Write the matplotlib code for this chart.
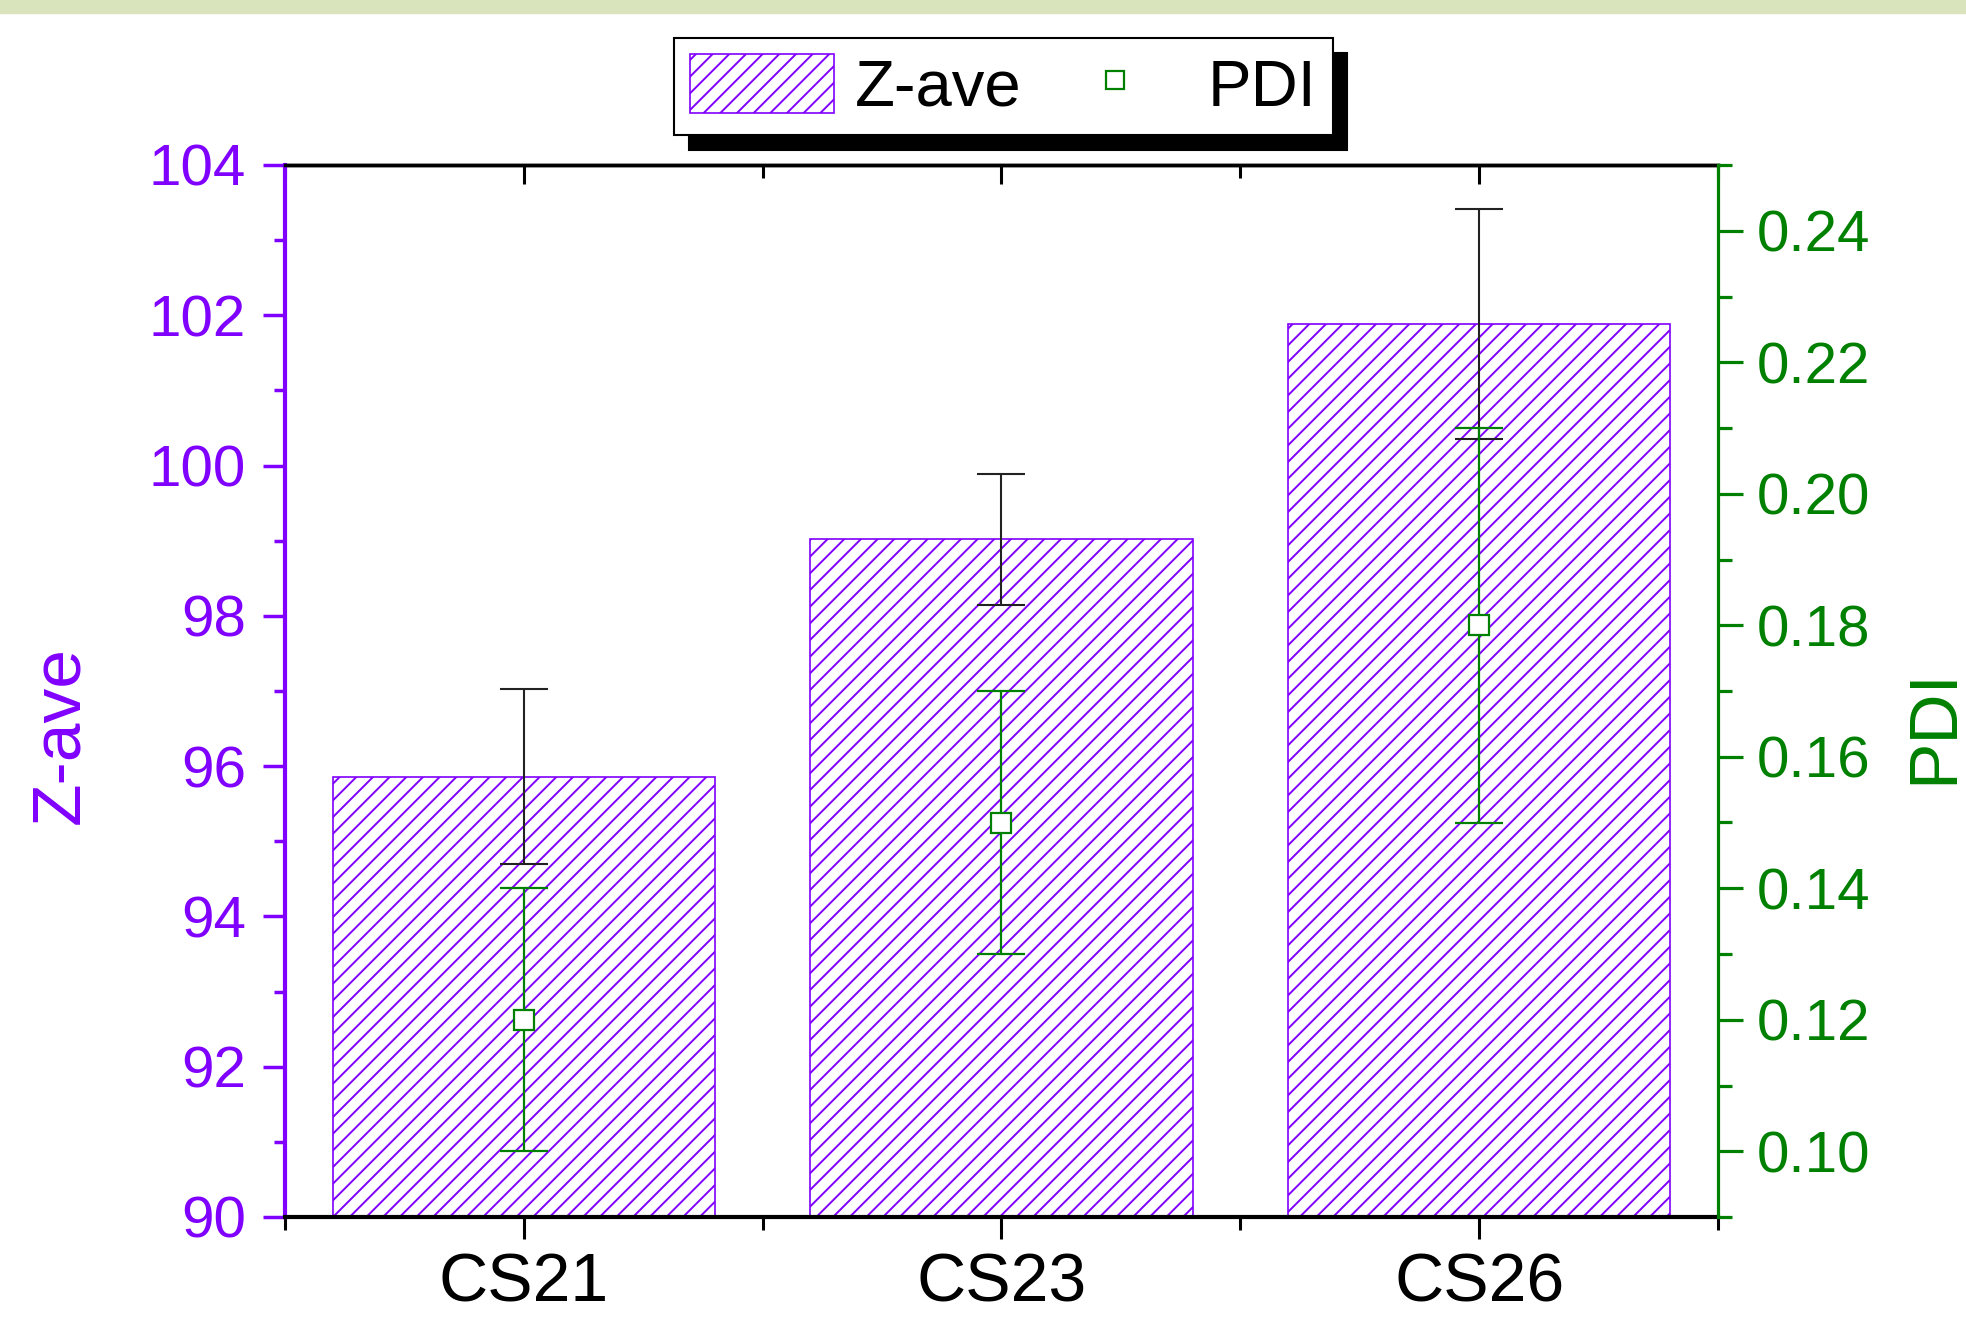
import numpy as np
import matplotlib
matplotlib.use("Agg")
import matplotlib.pyplot as plt
from matplotlib.lines import Line2D
from matplotlib.patches import Rectangle
from matplotlib.ticker import MultipleLocator, FormatStrFormatter

# data
samples = ["CS21", "CS23", "CS26"]
z_ave = [95.86, 99.02, 101.89]
z_err = [1.16, 0.87, 1.53]
pdi = [0.12, 0.15, 0.18]
pdi_err = [0.02, 0.02, 0.03]

PURPLE = "#8000FF"
GREEN = "#008000"

plt.rcParams["font.family"] = ["Liberation Sans", "DejaVu Sans"]
plt.rcParams["hatch.linewidth"] = 1.4

fig = plt.figure(figsize=(19.66, 13.21), dpi=100)

# light green strip at the very top
fig.patches.append(Rectangle((0, 1 - 13 / 1321), 1, 13 / 1321,
                             transform=fig.transFigure, color="#D9E4BD", zorder=0))

ax = fig.add_axes([285 / 1966, 1 - 1217 / 1321, 1433 / 1966, 1052 / 1321])
x = np.arange(len(samples))

# Z-ave bars
bars = ax.bar(x, z_ave, width=0.8, color="white", edgecolor=PURPLE,
              hatch="//", linewidth=1.2, zorder=2)
ax.errorbar(x, z_ave, yerr=z_err, fmt="none", ecolor="#222222",
            elinewidth=1.5, capsize=17, capthick=1.5, zorder=3)

ax.set_xlim(-0.5, 2.5)
ax.set_ylim(90, 104)
ax.yaxis.set_major_locator(MultipleLocator(2))
ax.yaxis.set_minor_locator(MultipleLocator(1))
ax.set_xticks(x)
ax.set_xticklabels(samples, fontsize=49)
ax.xaxis.set_minor_locator(MultipleLocator(0.5))

ax.spines["left"].set_color(PURPLE)
ax.spines["left"].set_linewidth(3)
ax.spines["bottom"].set_linewidth(3)
ax.spines["top"].set_linewidth(2.5)
ax.spines["right"].set_visible(False)

ax.tick_params(axis="y", which="major", direction="out", length=16, width=2.5,
               color=PURPLE, labelcolor=PURPLE, labelsize=42, pad=12)
ax.tick_params(axis="y", which="minor", direction="out", length=8, width=2.5,
               color=PURPLE)
ax.tick_params(axis="x", which="major", direction="out", length=16, width=2.2,
               pad=9)
ax.tick_params(axis="x", which="minor", direction="out", length=9, width=2.2)

ax.set_ylabel("Z-ave", color=PURPLE, fontsize=50, va="center")
ax.yaxis.set_label_coords(-0.157, 0.458)

# ticks pointing inward on the top edge
top = ax.secondary_xaxis("top")
top.set_xticks(x)
top.set_xticklabels([])
top.xaxis.set_minor_locator(MultipleLocator(0.5))
top.tick_params(which="major", direction="in", length=14, width=2.2)
top.tick_params(which="minor", direction="in", length=9, width=2.2)
top.spines["top"].set_linewidth(2.5)

# PDI on the right axis
ax2 = ax.twinx()
ax2.errorbar(x, pdi, yerr=pdi_err, fmt="s", color=GREEN, mfc="white",
             mec=GREEN, ms=15, mew=1.6, ecolor=GREEN, elinewidth=1.6,
             capsize=17, capthick=1.6, zorder=4)
ax2.set_ylim(0.09, 0.25)
ax2.yaxis.set_major_locator(MultipleLocator(0.02))
ax2.yaxis.set_minor_locator(MultipleLocator(0.01))
ax2.yaxis.set_major_formatter(FormatStrFormatter("%.2f"))
for side in ["left", "top", "bottom"]:
    ax2.spines[side].set_visible(False)
ax2.spines["right"].set_color(GREEN)
ax2.spines["right"].set_linewidth(2.3)
ax2.tick_params(axis="y", which="major", direction="out", length=18, width=2.3,
                color=GREEN, labelcolor=GREEN, labelsize=42, pad=10)
ax2.tick_params(axis="y", which="minor", direction="out", length=10, width=2.3,
                color=GREEN)
ax2.set_ylabel("PDI", color=GREEN, fontsize=50, va="center")
ax2.yaxis.set_label_coords(1.1507, 0.467)

# legend with a solid black drop shadow
pdi_handle = Line2D([], [], marker="s", ls="none", mfc="white", mec=GREEN,
                    ms=13.5, mew=1.6)
leg = fig.legend([bars, pdi_handle], ["Z-ave", "PDI"], loc="center",
                 bbox_to_anchor=(0.5104, 0.9345), ncol=2, frameon=True,
                 fancybox=False, edgecolor="black", framealpha=1,
                 shadow={"ox": 10.5, "oy": -10.5, "color": "black", "alpha": 1},
                 fontsize=47, handlelength=2.2, handleheight=1.0,
                 handletextpad=0.32, columnspacing=0.33, borderpad=0.25)
leg.get_frame().set_linewidth(1.5)

fig.savefig("out.png", dpi=100, facecolor="white")
